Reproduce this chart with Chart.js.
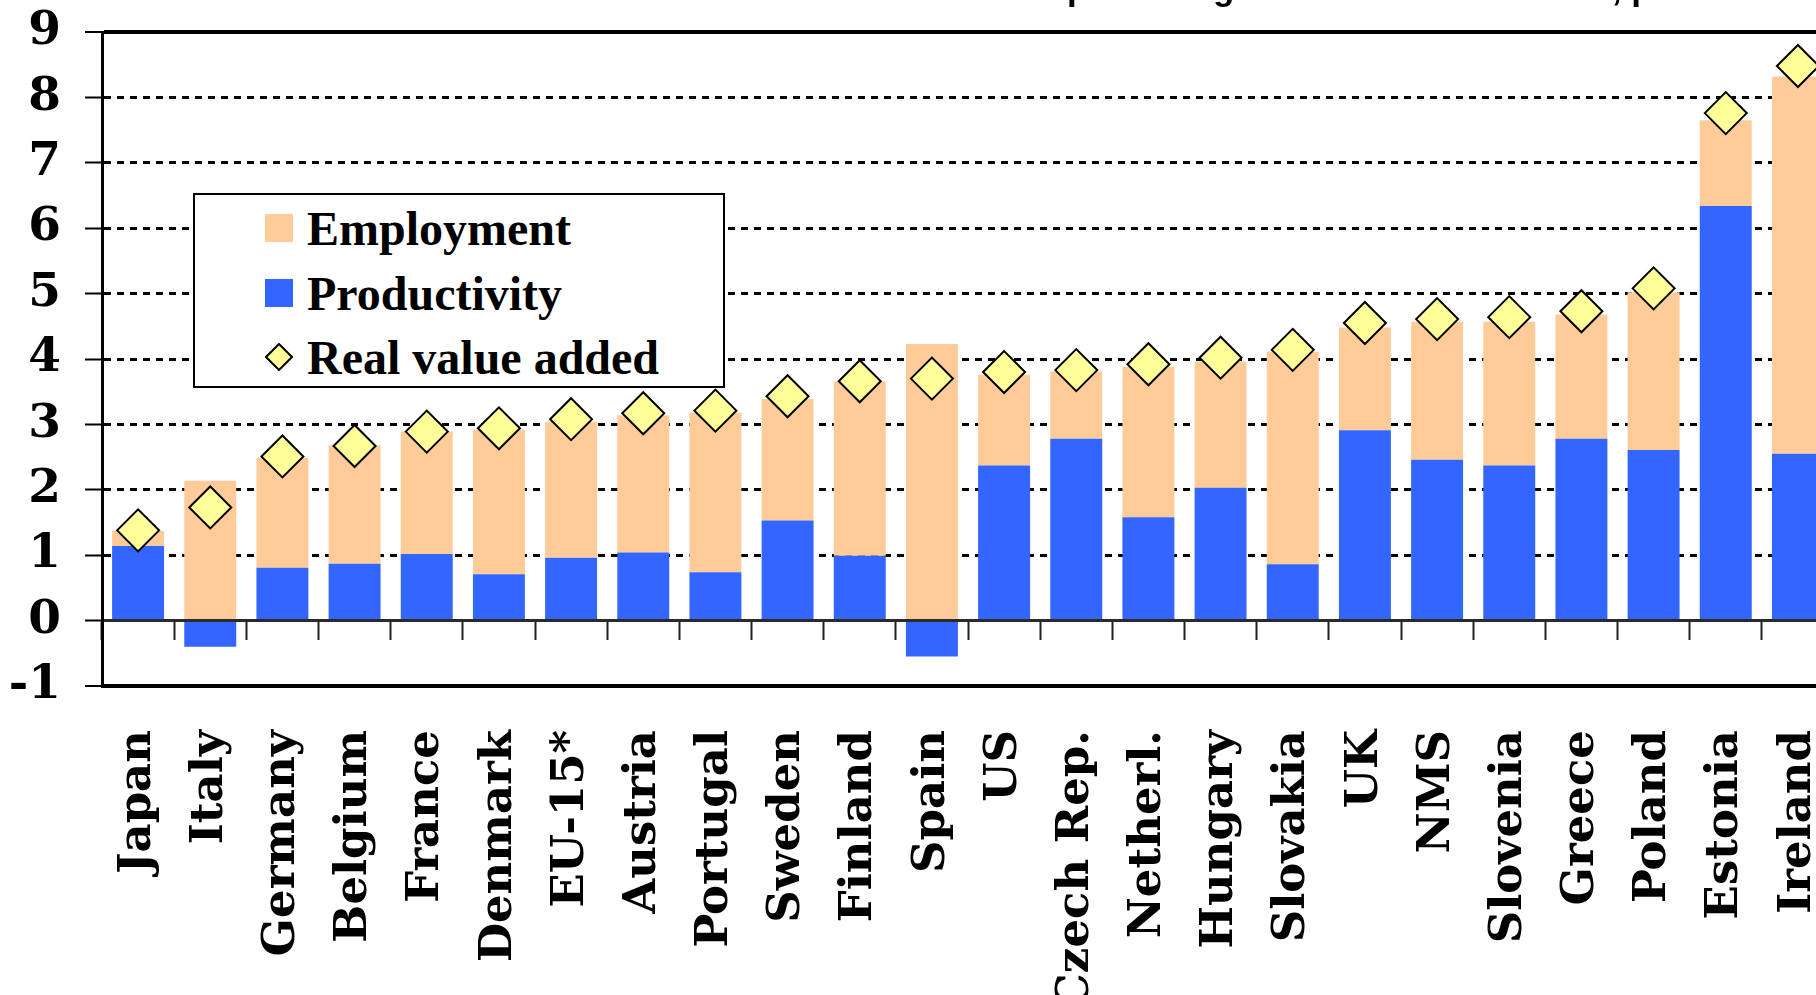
<!DOCTYPE html>
<html>
<head>
<meta charset="utf-8">
<script src="https://cdn.jsdelivr.net/npm/chart.js@4/dist/chart.umd.min.js"></script>
<style>
html, body { margin: 0; padding: 0; overflow: hidden; background: #fff; width: 1816px; height: 995px; }
#wrap { position: relative; width: 1816px; height: 995px; overflow: hidden; }
#c { position: absolute; left: 0; top: 0; }
#title { position: absolute; top: -30px; white-space: nowrap; font: bold 35px "Liberation Sans", Arial, sans-serif; line-height: 35px; color: #000; }
#legend { position: absolute; left: 193px; top: 193px; width: 528px; height: 191px; border: 2px solid #000; background: #fff; font: bold 48px "Liberation Serif", "Times New Roman", serif; color: #000; }
.item { position: absolute; left: 70px; height: 60px; display: flex; align-items: center; white-space: nowrap; }
.sw { width: 28px; height: 28px; margin-right: 14px; flex: none; }
</style>
</head>
<body>
<div id="wrap">
  <canvas id="c" width="1857" height="995"></canvas>
  <div id="title"></div>
  <div id="legend"></div>
</div>
<script>
// ---- data ----
const categories = ['Japan', 'Italy', 'Germany', 'Belgium', 'France', 'Denmark', 'EU-15*', 'Austria', 'Portugal', 'Sweden', 'Finland', 'Spain', 'US', 'Czech Rep.', 'Netherl.', 'Hungary', 'Slovakia', 'UK', 'NMS', 'Slovenia', 'Greece', 'Poland', 'Estonia', 'Ireland'];
const productivity = [1.14, -0.40, 0.81, 0.87, 1.02, 0.71, 0.96, 1.04, 0.74, 1.53, 0.99, -0.55, 2.37, 2.78, 1.58, 2.03, 0.86, 2.91, 2.46, 2.37, 2.78, 2.61, 6.34, 2.55];
const employment = [0.23, 2.14, 1.68, 1.81, 1.87, 2.21, 2.08, 2.10, 2.44, 1.86, 2.67, 4.23, 1.39, 1.03, 2.30, 1.93, 3.25, 1.57, 2.11, 2.20, 1.90, 2.41, 1.31, 5.77];
const realValueAdded = [1.38, 1.73, 2.51, 2.67, 2.89, 2.94, 3.08, 3.17, 3.21, 3.43, 3.66, 3.70, 3.80, 3.83, 3.92, 4.02, 4.14, 4.55, 4.61, 4.64, 4.73, 5.08, 7.76, 8.48];
const seriesNames = ['Employment', 'Productivity', 'Real value added'];
const yTickValues = [-1, 0, 1, 2, 3, 4, 5, 6, 7, 8, 9];
const titleText = 'Contributions to real value added in percentage rates from 1995-2005, percent';

const colEmp = '#FFCC99', colProd = '#3366FF', colRva = '#FFFF99';
const yMin = yTickValues[0], yMax = yTickValues[yTickValues.length - 1];

// ---- title (cut off at the top, as in the reference) ----
(function () {
  const t = document.getElementById('title');
  t.textContent = titleText;
  const m = document.createElement('canvas').getContext('2d');
  m.font = 'bold 35px "Liberation Sans"';
  const pre = titleText.slice(0, titleText.indexOf('percentage'));
  t.style.left = (1070 - m.measureText(pre).width - 3) + 'px';
})();

// ---- legend ----
(function () {
  const lg = document.getElementById('legend');
  const tops = [3, 68, 132];
  const sw = [
    '<div class="sw" style="background:' + colEmp + '"></div>',
    '<div class="sw" style="background:' + colProd + '"></div>',
    '<svg class="sw" viewBox="0 0 28 28"><polygon points="14,1 27,14 14,27 1,14" fill="' + colRva + '" stroke="#000" stroke-width="2"/></svg>'
  ];
  seriesNames.forEach((n, i) => {
    const d = document.createElement('div');
    d.className = 'item';
    d.style.top = tops[i] + 'px';
    d.innerHTML = sw[i] + '<span>' + n + '</span>';
    lg.appendChild(d);
  });
})();

const isEdge = v => v === yMin || v === yMax;

new Chart(document.getElementById('c'), {
  type: 'bar',
  data: {
    labels: categories,
    datasets: [
      {
        type: 'line', label: seriesNames[2], data: realValueAdded, showLine: false,
        pointStyle: 'rectRot', pointRadius: 21, pointHoverRadius: 21,
        pointBackgroundColor: colRva, pointBorderColor: '#000', pointBorderWidth: 2,
        backgroundColor: colRva, borderColor: '#000', stack: 'rva', order: 0,
        xAxisID: 'x', yAxisID: 'y'
      },
      {
        label: seriesNames[1], data: productivity, backgroundColor: colProd,
        stack: 'bars', order: 1, barPercentage: 0.72, categoryPercentage: 1,
        xAxisID: 'x', yAxisID: 'y'
      },
      {
        label: seriesNames[0], data: employment, backgroundColor: colEmp,
        stack: 'bars', order: 1, barPercentage: 0.72, categoryPercentage: 1,
        xAxisID: 'x', yAxisID: 'y'
      }
    ]
  },
  options: {
    responsive: false,
    animation: false,
    events: [],
    layout: { padding: { top: 32, left: 0, right: 2, bottom: 0 } },
    plugins: { legend: { display: false }, tooltip: { enabled: false }, title: { display: false } },
    scales: {
      x: {
        type: 'category', position: 'bottom', stacked: true, offset: true,
        grid: { display: false, drawTicks: false, offset: true },
        border: { display: false },
        ticks: { autoSkip: false, maxRotation: 90, minRotation: 90, padding: 44, color: '#000', font: { family: '"DejaVu Serif", serif', weight: 'bold', size: 45 } },
        afterFit(s) { s.height = 309; s.paddingLeft = 0; s.paddingRight = 0; }
      },
      x0: {
        type: 'category', labels: categories, position: { y: 0 }, offset: true,
        grid: { drawOnChartArea: false, drawTicks: true, tickLength: 18, tickWidth: 2, tickColor: '#222', offset: true },
        border: { display: true, color: '#2a2a2a', width: 3 },
        ticks: { display: false, autoSkip: false }
      },
      y: {
        type: 'linear', min: yMin, max: yMax, stacked: true,
        afterBuildTicks(s) { s.ticks = yTickValues.map(v => ({ value: v })); },
        ticks: { padding: 24, color: '#000', font: { family: '"DejaVu Serif", serif', weight: 'bold', size: 47 } },
        grid: {
          color: c => (c.tick && c.tick.value === 0) ? '#2a2a2a' : '#000',
          lineWidth: c => (c.tick && isEdge(c.tick.value)) ? 4 : 3,
          drawTicks: true, tickLength: 17, tickColor: '#000', tickWidth: 2
        },
        border: {
          display: true, color: '#000', width: 3,
          dash: c => (c.tick && (isEdge(c.tick.value) || c.tick.value === 0)) ? [] : [7, 6]
        },
        afterFit(s) { s.width = 102; s.paddingTop = 0; s.paddingBottom = 0; }
      }
    }
  }
});
</script>
</body>
</html>
